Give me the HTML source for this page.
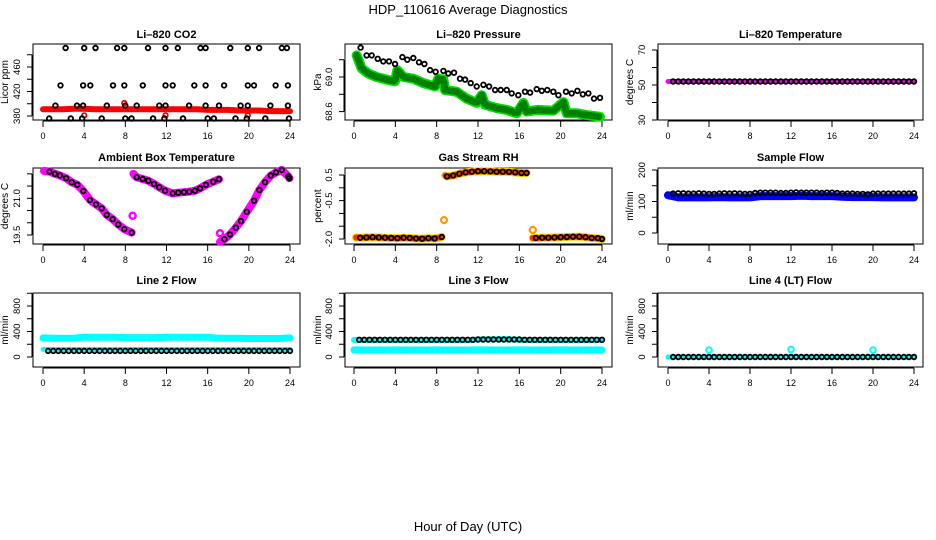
<!DOCTYPE html>
<html><head><meta charset="utf-8"><style>
html,body{margin:0;padding:0;background:#fff}
svg{display:block;font-family:"Liberation Sans",Arial,sans-serif}
</style></head><body>
<svg id="chart" width="936" height="540" viewBox="0 0 936 540" xmlns="http://www.w3.org/2000/svg">
<text x="468" y="14" font-size="13" text-anchor="middle">HDP_110616  Average Diagnostics</text>
<text x="468" y="531" font-size="13" text-anchor="middle">Hour of Day (UTC)</text>
</svg>
<script>
// ---------- data ----------
const hours48=[0.5,1,1.5,2,2.5,3,3.5,4,4.5,5,5.5,6,6.5,7,7.5,8,8.5,9,9.5,10,10.5,11,11.5,12,12.5,13,13.5,14,14.5,15,15.5,16,16.5,17,17.5,18,18.5,19,19.5,20,20.5,21,21.5,22,22.5,23,23.5,24];
const hours25=[0,1,2,3,4,5,6,7,8,9,10,11,12,13,14,15,16,17,18,19,20,21,22,23,24];
const xTicks=[0,4,8,12,16,20,24];

// CO2
const co2Hours=[2.2,4.0,5.1,7.2,7.9,10.2,11.9,13.1,15.3,15.8,18.2,19.9,21.0,23.2,23.7,
 1.7,3.9,4.6,6.8,7.9,9.7,11.9,12.6,14.7,15.8,17.6,19.9,20.5,22.6,23.8,
 1.2,3.3,3.9,6.2,8.0,9.1,11.3,11.9,14.2,15.8,17.1,19.2,19.9,22.1,23.8,
 0.6,2.7,3.8,5.7,8.0,8.6,10.7,11.8,13.6,16.0,16.6,18.7,19.8,21.6,23.9];
const co2Vals=[491,491,491,491,491,491,491,491,491,491,491,491,491,491,491,
 430,430,430,430,430,430,430,430,430,430,430,430,430,430,430,
 397,397,397,397,397,397,397,397,397,397,397,397,397,397,397,
 376,376,376,376,376,376,376,376,376,376,376,376,376,376,376];
const co2Red=[391,391,391,392,392,391,391,391,391,391,391,391,391,391,391,391,390,390,390,389,389,389,388,388,388];
const co2RedOutHours=[4.0,7.9,11.9,19.9];
const co2RedOutVals=[381,401,381,381];

// Pressure
const presHours=[0.64,1.22,1.71,2.29,2.84,3.39,3.97,4.68,5.16,5.74,6.29,6.81,7.36,7.9,8.65,9.13,9.68,10.26,10.75,11.29,11.87,12.52,13.07,13.65,14.2,14.78,15.26,15.9,16.55,17.04,17.68,18.17,18.71,19.29,19.78,20.52,21.07,21.62,22.14,22.68,23.23,23.81];
const presVals=[69.34,69.25,69.25,69.21,69.18,69.18,69.15,69.23,69.20,69.22,69.17,69.15,69.08,69.06,69.07,69.04,69.05,68.98,68.97,68.93,68.89,68.91,68.89,68.85,68.85,68.85,68.81,68.79,68.83,68.82,68.86,68.84,68.85,68.83,68.79,68.83,68.81,68.84,68.80,68.81,68.75,68.76];
const presGreenHours=[0.26,0.74,1.38,2.19,3.16,3.97,4.2,4.78,5.74,6.71,7.84,8.16,8.65,8.81,9.94,10.91,11.87,12.36,12.68,13.81,14.78,15.75,16.39,16.71,17.75,19.29,20.26,20.59,21.56,22.52,23.81];
const presGreenVals=[69.25,69.10,69.04,69.00,68.97,68.95,69.08,69.00,68.98,68.93,68.89,68.98,68.97,68.85,68.83,68.75,68.70,68.79,68.68,68.64,68.62,68.58,68.70,68.60,68.62,68.61,68.71,68.58,68.58,68.56,68.54];

// Li-820 temperature
const tempBlack=[52,52,52,52,52,52,52,52,52,52,52,52,52,52,52,52,52,52,52,52,52,52,52,52,52,52,52,52,52,52,52,52,52,52,52,52,52,52,52,52,52,52,52,52,52,52,52,52];
const tempMag=[52,52,52,52,52,52,52,52,52,52,52,52,52,52,52,52,52,52,52,52,52,52,52,52,52];

// Ambient box temperature
const ambHours=[0.62,1.17,1.65,2.24,2.79,3.33,3.92,4.57,5.15,5.7,6.2,6.77,7.32,7.9,8.62,
 9.1,9.69,10.23,10.79,11.3,11.86,12.6,13.15,13.7,14.22,14.77,15.26,15.84,16.55,17.1,
 17.63,18.17,18.73,19.24,19.8,20.51,21.03,21.57,22.13,22.64,23.2,23.84,23.94];
const ambVals=[22.09,22.0,21.93,21.82,21.66,21.55,21.3,20.93,20.75,20.59,20.32,20.15,19.93,19.74,19.6,
 21.86,21.79,21.72,21.59,21.45,21.31,21.2,21.23,21.25,21.27,21.31,21.41,21.55,21.68,21.78,
 19.33,19.52,19.8,20.07,20.45,20.9,21.34,21.66,21.93,22.06,22.16,21.89,21.82];
const ambSeg=[0,0,0,0,0,0,0,0,0,0,0,0,0,0,0,1,1,1,1,1,1,1,1,1,1,1,1,1,1,1,2,2,2,2,2,2,2,2,2,2,2,2,2];
const ambStartHours=[0.1,8.78,17.2];
const ambStartVals=[22.12,22.0,19.22];
const ambOutHours=[8.71,17.2];
const ambOutVals=[20.29,19.57];

// Gas stream RH
const rhHours=[0.6,1.2,1.8,2.4,3.0,3.6,4.2,4.8,5.4,6.0,6.6,7.2,7.8,8.5,
 9.0,9.6,10.2,10.8,11.4,12.0,12.6,13.2,13.8,14.4,15.0,15.6,16.2,16.7,
 17.6,18.2,18.8,19.4,20.0,20.6,21.2,21.8,22.4,23.0,23.6,24.0];
const rhVals=[-1.95,-1.94,-1.93,-1.94,-1.95,-1.96,-1.97,-1.95,-1.96,-1.98,-1.99,-1.97,-1.98,-1.92,
 0.44,0.48,0.55,0.6,0.63,0.65,0.65,0.64,0.63,0.63,0.62,0.6,0.58,0.58,
 -1.96,-1.95,-1.95,-1.94,-1.93,-1.92,-1.91,-1.91,-1.93,-1.96,-1.97,-2.0];
const rhSeg=[0,0,0,0,0,0,0,0,0,0,0,0,0,0,1,1,1,1,1,1,1,1,1,1,1,1,1,1,2,2,2,2,2,2,2,2,2,2,2,2];
const rhStartHours=[0.2,8.85,17.3];
const rhStartVals=[-1.94,0.48,-1.96];
const rhOutHours=[8.71,17.3];
const rhOutVals=[-1.26,-1.65];

// Sample flow
const sampleBlack=[125,126,126,125,125,126,125,124,124,125,126,125,126,125,124,124,127,128,128,128,128,127,127,128,129,128,128,128,128,127,128,128,127,125,125,125,124,124,123,125,125,125,125,125,125,125,125,126];
const sampleBlue=[120,113,113,113,113,114,113,113,113,117,117,117,117,118,117,117,117,115,114,114,114,113,113,113,113];

// Line flows
const line2Black=[95,95,95,95,95,95,95,95,95,95,95,95,95,95,95,95,95,95,95,95,95,95,95,95,95,95,95,95,95,95,95,95,95,95,95,95,95,95,95,95,95,95,95,95,95,95,95,95];
const line2CyanHi=[300,295,295,295,310,310,310,310,305,305,305,305,310,310,310,310,310,295,295,295,290,290,290,290,300];
const line2CyanLo=[120,118,118,118,118,118,118,118,118,118,118,118,118,118,118,118,118,118,118,118,118,118,118,118,118];
const line3Black=[270,270,270,270,270,270,270,270,270,270,270,270,270,270,270,270,270,270,270,270,270,270,270,275,275,275,275,275,275,275,275,275,270,270,270,270,270,270,270,270,270,270,270,270,270,270,270,270];
const line3CyanHi=[268,265,265,265,265,265,265,265,265,265,265,265,275,278,278,278,270,265,265,265,265,265,265,265,268];
const line3CyanLo=[112,110,110,110,112,110,110,110,112,110,110,110,112,110,110,110,112,110,110,110,112,110,110,110,110];
const line4Black=[0,0,0,0,0,0,0,0,0,0,0,0,0,0,0,0,0,0,0,0,0,0,0,0,0,0,0,0,0,0,0,0,0,0,0,0,0,0,0,0,0,0,0,0,0,0,0,0];
const line4Cyan=[0,0,0,0,0,0,0,0,0,0,0,0,0,0,0,0,0,0,0,0,0,0,0,0,0];
const line4OutHours=[4.0,12.0,20.0];
const line4OutVals=[110,120,110];

// ---------- layout ----------
const NS='http://www.w3.org/2000/svg';
const svg=document.getElementById('chart');
const cols=[{l:33,r:300,x0:43,x24:290,lab:20,tit:8},{l:345,r:612,x0:354,x24:602,lab:332,tit:321},{l:658,r:923,x0:668,x24:914,lab:645,tit:633}];
const rows=[{t:44,b:120,tt:38},{t:168,b:244,tt:161},{t:293,b:367,tt:284}];

function mk(tag,attrs,parent){const e=document.createElementNS(NS,tag);for(const k in attrs)e.setAttribute(k,attrs[k]);(parent||svg).appendChild(e);return e;}

function makePanel(c,r,title,ytitle,ref,ticks,labels,name){
  const col=cols[c],row=rows[r];
  const p={col,row,name};
  p.x=h=>col.x0+h*(col.x24-col.x0)/24;
  p.y=v=>ref[1]+(v-ref[0])*(ref[3]-ref[1])/(ref[2]-ref[0]);
  const g=mk('g',{});
  
  
  p.g=g;
  const t=mk('text',{x:(col.l+col.r)/2,y:row.tt,'font-size':11,'font-weight':'bold','text-anchor':'middle'},g);
  t.textContent=title;
  
  
  const box=mk('rect',{x:col.l,y:row.t,width:col.r-col.l,height:row.b-row.t,fill:'none',stroke:'#000','stroke-width':1},g);
  
  
  const xa=mk('g',{},g);
  
  
  mk('line',{x1:p.x(0),x2:p.x(24),y1:row.b+1,y2:row.b+1,stroke:'#000'},xa);
  xTicks.forEach(h=>{
    mk('line',{x1:p.x(h),x2:p.x(h),y1:row.b+1,y2:row.b+7,stroke:'#000'},xa);
    const tl=mk('text',{x:p.x(h),y:row.b+19,'font-size':9,'text-anchor':'middle'},xa);
    tl.textContent=h;
    
    
  });
  const ya=mk('g',{},g);
  
  
  mk('line',{x1:col.l-1,x2:col.l-1,y1:p.y(ticks[0]),y2:p.y(ticks[ticks.length-1]),stroke:'#000'},ya);
  ticks.forEach(v=>{
    mk('line',{x1:col.l-6,x2:col.l-1,y1:p.y(v),y2:p.y(v),stroke:'#000'},ya);
  });
  labels.forEach(s=>{
    const yy=p.y(parseFloat(s));
    const tl=mk('text',{x:col.lab,y:yy,'font-size':9.5,'text-anchor':'middle',transform:'rotate(-90 '+col.lab+' '+yy+')'},ya);
    tl.textContent=s;
    
    
  });
  const ym=(row.t+row.b)/2;
  const yt=mk('text',{x:col.tit,y:ym,'font-size':10,'text-anchor':'middle',transform:'rotate(-90 '+col.tit+' '+ym+')'},g);
  yt.textContent=ytitle;
  
  
  return p;
}
function band(p,hs,vs,color,w,segs,dash){
  const groups={};
  hs.forEach((h,i)=>{const s=segs?segs[i]:0;(groups[s]=groups[s]||[]).push(p.x(h).toFixed(1)+','+p.y(vs[i]).toFixed(1));});
  Object.keys(groups).forEach(k=>{
    const pl=mk('polyline',{points:groups[k].join(' '),fill:'none',stroke:color,'stroke-width':w,'stroke-linecap':'round','stroke-linejoin':'round'},p.g);
    if(dash)pl.setAttribute('stroke-dasharray',dash);
    
    
  });
}
function pts(p,hs,vs,color,r,sw){
  hs.forEach((h,i)=>{
    const c=mk('circle',{cx:p.x(h).toFixed(1),cy:p.y(vs[i]).toFixed(1),r:r||2.3,fill:'none',stroke:color,'stroke-width':sw||1.8},p.g);
    
    
  });
}

// ---------- panels ----------
const pCO2=makePanel(0,0,'Li\u2013820 CO2','Licor ppm',[380,116,460,67],[380,400,420,440,460,480],['380','420','460'],'co2');
band(pCO2,hours25,co2Red,'#ff0000',6);
pts(pCO2,co2RedOutHours,co2RedOutVals,'#ff0000');
pts(pCO2,co2Hours,co2Vals,'#000');

const pPres=makePanel(1,0,'Li\u2013820 Pressure','kPa',[69.0,77,68.6,111.6],[68.6,68.8,69.0,69.2],['68.6','69.0'],'pressure');
band(pPres,presGreenHours,presGreenVals,'#00e000',10);
band(pPres,presGreenHours,presGreenVals,'#008000',7,null,'1 3');
pts(pPres,presHours,presVals,'#000');

const pTemp=makePanel(2,0,'Li\u2013820 Temperature','degrees C',[50,85,70,50],[30,40,50,60,70],['30','50','70'],'li820-temp');
band(pTemp,hours25,tempMag,'#ff00ff',5);
pts(pTemp,hours48,tempBlack,'#000');

const pAmb=makePanel(0,1,'Ambient Box Temperature','degrees C',[19.5,235,21.0,198.3],[19.5,20.0,20.5,21.0,21.5,22.0],['19.5','21.0'],'ambient-temp');
band(pAmb,ambStartHours.concat(ambHours),ambStartVals.concat(ambVals),'#ff00ff',8,[0,1,2].concat(ambSeg));
pts(pAmb,ambOutHours,ambOutVals,'#ff00ff',3,2.5);
pts(pAmb,ambHours,ambVals,'#000');

const pRH=makePanel(1,1,'Gas Stream RH','percent',[0.5,175,-2.0,239],[-2.0,-1.5,-1.0,-0.5,0,0.5],['-2.0','-0.5','0.5'],'rh');
band(pRH,rhStartHours.concat(rhHours),rhStartVals.concat(rhVals),'#ffd000',8,[0,1,2].concat(rhSeg));
band(pRH,rhStartHours.concat(rhHours),rhStartVals.concat(rhVals),'#ff3000',6,[0,1,2].concat(rhSeg),'1 3');
pts(pRH,rhOutHours,rhOutVals,'#ff9900',3,2.2);
pts(pRH,rhHours,rhVals,'#000');

const pSample=makePanel(2,1,'Sample Flow','ml/min',[0,233,200,170],[0,50,100,150,200],['0','100','200'],'sample-flow');
band(pSample,hours25,sampleBlue,'#0000ff',8);
pts(pSample,hours48,sampleBlack,'#000');

const pL2=makePanel(0,2,'Line 2 Flow','ml/min',[0,357,800,306],[0,200,400,600,800,1000],['0','400','800'],'line2-flow');
band(pL2,hours25,line2CyanHi,'#00ffff',7);
band(pL2,hours25,line2CyanLo,'#00ffff',5);
pts(pL2,hours48,line2Black,'#000');

const pL3=makePanel(1,2,'Line 3 Flow','ml/min',[0,357,800,306],[0,200,400,600,800,1000],['0','400','800'],'line3-flow');
band(pL3,hours25,line3CyanHi,'#00ffff',6);
band(pL3,hours25,line3CyanLo,'#00ffff',7);
pts(pL3,hours48,line3Black,'#000');

const pL4=makePanel(2,2,'Line 4 (LT) Flow','ml/min',[0,357,800,306],[0,200,400,600,800,1000],['0','400','800'],'line4-flow');
band(pL4,hours25,line4Cyan,'#00ffff',5);
pts(pL4,line4OutHours,line4OutVals,'#00ffff',2.8,2);
pts(pL4,hours48,line4Black,'#000');
</script>
</body></html>
